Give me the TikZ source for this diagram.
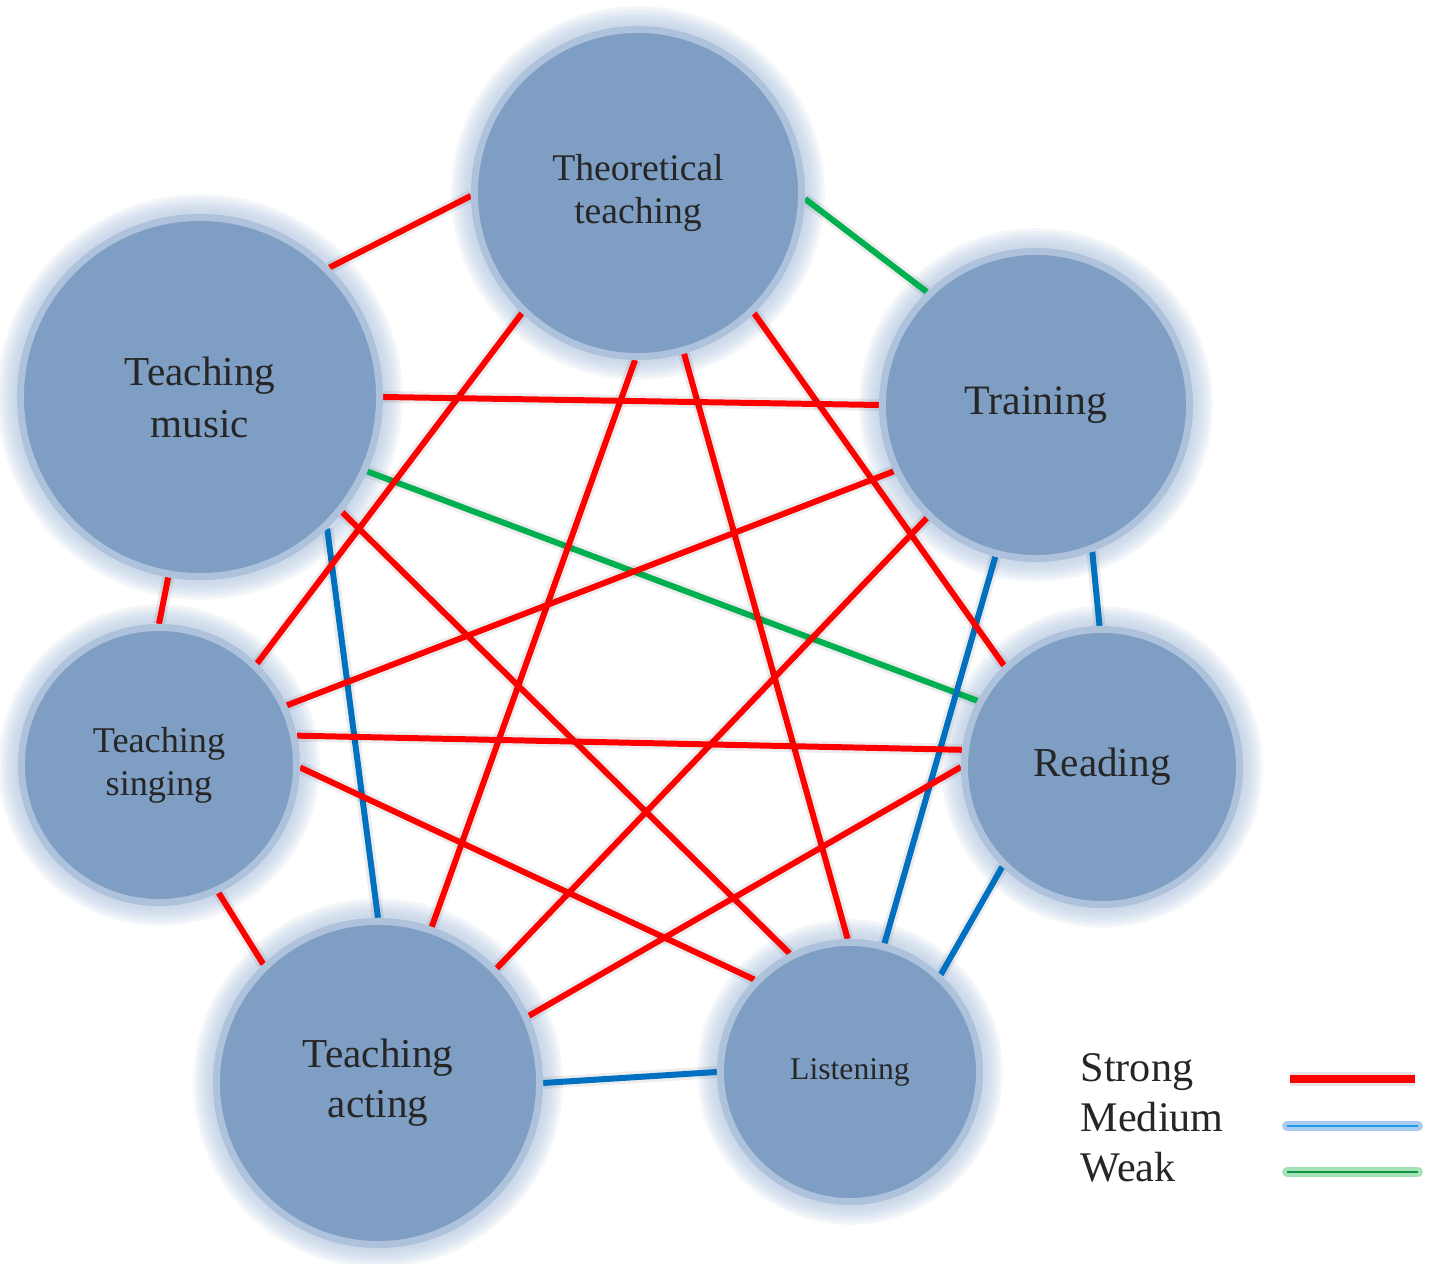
\documentclass[tikz,border=0pt]{standalone}
\usepackage{fontspec}
\setmainfont{Liberation Serif}
\usetikzlibrary{calc, backgrounds}
\definecolor{nodeblue}{HTML}{7F9EC4}
\definecolor{ringblue}{HTML}{AEC2DC}
\definecolor{haloblue}{HTML}{B4C8E2}
\definecolor{textgray}{HTML}{262626}
\definecolor{tiered}{HTML}{FF0000}
\definecolor{tieblue}{HTML}{0070C0}
\definecolor{tiegreen}{HTML}{00B050}
\definecolor{glowblue}{HTML}{A9CBF0}
\definecolor{coreblue}{HTML}{1E9BE6}
\definecolor{glowgreen}{HTML}{A4E2B8}
\definecolor{coregreen}{HTML}{109848}
\pgfdeclarelayer{halo}
\pgfsetlayers{halo,background,main}

\begin{document}
\begin{tikzpicture}[x=0.01cm, y=-0.01cm,
  topic/.style={
    circle, fill=nodeblue, draw=ringblue, line width=2pt,
    text=textgray, align=center, inner sep=0pt
  },
  tie/.style={line width=1.7pt, preaction={draw=black, opacity=.07, line width=3.4pt}},
  strongtie/.style={tie, draw=tiered},
  mediumtie/.style={tie, draw=tieblue},
  weaktie/.style={tie, draw=tiegreen},
  legend/.style={text=textgray, anchor=base west, inner sep=0pt,
    font=\fontsize{12}{14}\selectfont}
]
  \useasboundingbox (0,0) rectangle (1432,1264);

  \node[topic, minimum size=3.27cm, font=\fontsize{10.7}{12.2}\selectfont] (theory) at (638,193) {Theoretical\\teaching};
  \node[topic, minimum size=3.59cm, font=\fontsize{11.7}{14.8}\selectfont] (music) at (200,397) {Teaching\\music};
  \node[topic, minimum size=3.07cm, font=\fontsize{11.9}{14}\selectfont] (training) at (1036,405) {Training};
  \node[topic, minimum size=2.75cm, font=\fontsize{10.3}{12.2}\selectfont] (singing) at (159,765) {Teaching\\singing};
  \node[topic, minimum size=2.75cm, font=\fontsize{11.7}{14}\selectfont] (reading) at (1102,767) {Reading};
  \node[topic, minimum size=3.23cm, font=\fontsize{11.7}{14.2}\selectfont] (acting) at (378,1083) {Teaching\\acting};
  \node[topic, minimum size=2.59cm, font=\fontsize{9}{11}\selectfont] (listening) at (850,1072) {Listening};

  % soft glow round the circles
  \begin{pgfonlayer}{halo}
    \fill[white] (0,0) rectangle (1432,1264);
    \foreach \nd in {theory,music,training,singing,reading,acting,listening}
      \foreach \k in {1,...,7}
        \fill[haloblue, opacity=.14] let \p1 = ($(\nd.east)-(\nd.center)$) in
          (\nd.center) circle[radius={veclen(\x1,\y1)+\k*0.8pt}];
  \end{pgfonlayer}

  \begin{scope}[on background layer]
    % weak
    \draw[weaktie] (theory.358) -- (training.134);
    \draw[weaktie] (music.336) -- (reading.152);
    % medium
    \draw[mediumtie] (music.314) -- (acting.90);
    \draw[mediumtie] (training.255) -- (listening.75);
    \draw[mediumtie] (training.291) -- (reading.91);
    \draw[mediumtie] (reading.225) -- (listening.47);
    \draw[mediumtie] (acting.0) -- (listening.180);
    % strong
    \draw[strongtie] (theory.181) -- (music.45);
    \draw[strongtie] (theory.226) -- (singing.46);
    \draw[strongtie] (theory.269) -- (acting.71);
    \draw[strongtie] (theory.286) -- (listening.91);
    \draw[strongtie] (theory.314) -- (reading.134);
    \draw[strongtie] (music.0) -- (training.180);
    \draw[strongtie] (music.321) -- (listening.117);
    \draw[strongtie] (music.260) -- (singing.90);
    \draw[strongtie] (training.205) -- (singing.25);
    \draw[strongtie] (training.226) -- (acting.44);
    \draw[strongtie] (singing.12) -- (reading.173);
    \draw[strongtie] (singing.359) -- (listening.136);
    \draw[strongtie] (singing.295) -- (acting.134);
    \draw[strongtie] (reading.180) -- (acting.24);
  \end{scope}

  % legend
  \node[legend] (lgstrong) at (1080,1082) {Strong};
  \node[legend] (lgmedium) at (1080,1132) {Medium};
  \node[legend] (lgweak) at (1080,1182) {Weak};
  \coordinate (sw1a) at (1290,1079); \coordinate (sw1b) at (1415,1079);
  \coordinate (sw2a) at (1287,1126); \coordinate (sw2b) at (1418,1126);
  \coordinate (sw3a) at (1287,1172); \coordinate (sw3b) at (1418,1172);
  \draw[tiered, line width=2.3pt, preaction={draw=black, opacity=.1, line width=4pt}] (sw1a) -- (sw1b);
  \draw[glowblue, line width=2.8pt, line cap=round] (sw2a) -- (sw2b);
  \draw[coreblue, line width=.6pt] (sw2a) -- (sw2b);
  \draw[glowgreen, line width=2.8pt, line cap=round] (sw3a) -- (sw3b);
  \draw[coregreen, line width=.6pt] (sw3a) -- (sw3b);
\end{tikzpicture}
\end{document}
